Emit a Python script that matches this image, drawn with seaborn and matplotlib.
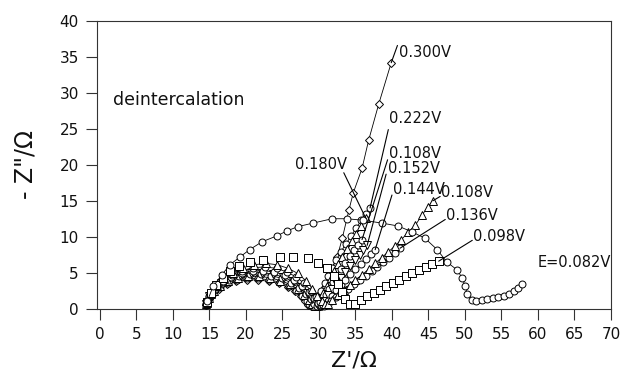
import numpy as np
import pandas as pd
import matplotlib
matplotlib.use("Agg")
import matplotlib.pyplot as plt
import seaborn as sns

# ---- impedance spectra (Z' / Ohm, -Z'' / Ohm) ----
re_082 = [14.7, 15.5, 16.7, 17.8, 19.2, 20.5, 22.2, 24.2, 25.6, 27.1, 29.2, 31.8, 33.8, 36.0,
          38.6, 40.8, 42.7, 44.5, 46.2, 47.5, 48.9, 49.6, 50.0, 50.3, 51.0, 51.5, 52.3, 53.0,
          53.8, 54.5, 55.3, 56.0, 56.7, 57.3, 57.8]
im_082 = [1.0, 3.1, 4.7, 6.1, 7.2, 8.2, 9.3, 10.1, 10.8, 11.4, 11.9, 12.5, 12.5, 12.3,
          11.9, 11.5, 10.7, 9.8, 8.2, 6.5, 5.4, 4.3, 3.2, 2.1, 1.2, 1.0, 1.2, 1.3,
          1.5, 1.6, 1.8, 2.1, 2.5, 2.9, 3.4]

re_098 = [14.7, 15.2, 15.9, 16.8, 17.8, 19.0, 20.5, 22.3, 24.7, 26.4, 28.5, 29.9, 31.1, 32.0,
          32.6, 33.1, 33.6, 34.2, 35.0, 35.8, 36.6, 37.5, 38.3, 39.2, 40.1, 41.0, 41.9, 42.8,
          43.7, 44.6, 45.5, 46.4]
im_098 = [0.9, 2.2, 3.3, 4.3, 5.2, 5.9, 6.5, 6.8, 7.2, 7.2, 7.1, 6.4, 5.7, 4.6,
          3.4, 2.3, 1.3, 0.6, 0.7, 1.2, 1.7, 2.2, 2.6, 3.1, 3.6, 4.0, 4.5, 5.0,
          5.4, 5.8, 6.2, 6.6]

re_108b = [14.6, 15.2, 16.0, 17.0, 18.2, 19.6, 21.1, 22.7, 24.3, 25.8, 27.1, 28.2, 29.1, 29.8,
           30.4, 30.8, 31.2, 31.8, 32.6, 33.4, 34.2, 35.0, 35.9, 36.8, 37.7, 38.6, 39.5, 40.4,
           41.3, 42.2, 43.2, 44.1, 45.0, 45.6]
im_108b = [0.8, 2.1, 3.2, 4.2, 5.0, 5.7, 6.1, 6.3, 6.1, 5.6, 4.9, 3.9, 2.8, 1.8,
           1.0, 0.7, 0.6, 1.2, 1.9, 2.6, 3.3, 4.0, 4.7, 5.5, 6.3, 7.1, 7.9, 8.7,
           9.6, 10.6, 11.6, 13.0, 14.2, 15.0]

re_136 = [14.6, 15.1, 15.9, 16.9, 18.1, 19.5, 21.0, 22.6, 24.2, 25.6, 26.9, 28.0, 28.9, 29.6,
          30.2, 30.6, 31.0, 31.6, 32.4, 33.2, 34.0, 34.8, 35.6, 36.4, 37.2, 38.0, 38.8, 39.6,
          40.4, 41.1]
im_136 = [0.7, 1.9, 3.0, 3.9, 4.7, 5.3, 5.7, 5.8, 5.6, 5.1, 4.4, 3.5, 2.5, 1.6,
          0.9, 0.5, 0.45, 1.0, 1.6, 2.2, 2.8, 3.4, 4.0, 4.6, 5.2, 5.8, 6.5, 7.1,
          7.8, 8.4]

re_144 = [14.5, 15.0, 15.8, 16.8, 18.0, 19.4, 20.9, 22.4, 23.9, 25.3, 26.6, 27.7, 28.6, 29.3,
          29.9, 30.3, 30.7, 31.2, 31.8, 32.4, 33.0, 33.6, 34.3, 35.0, 35.7, 36.4, 37.1, 37.7]
im_144 = [0.7, 1.8, 2.8, 3.7, 4.4, 4.9, 5.2, 5.3, 5.1, 4.7, 4.0, 3.2, 2.3, 1.5,
          0.8, 0.5, 0.4, 1.0, 1.8, 2.6, 3.3, 4.0, 4.8, 5.5, 6.2, 6.9, 7.6, 8.2]

re_152 = [14.5, 15.0, 15.7, 16.6, 17.8, 19.2, 20.7, 22.2, 23.7, 25.1, 26.4, 27.5, 28.4, 29.1,
          29.6, 30.0, 30.4, 30.8, 31.3, 31.8, 32.4, 33.0, 33.6, 34.2, 34.9, 35.6, 36.1, 36.6]
im_152 = [0.6, 1.7, 2.7, 3.5, 4.2, 4.7, 5.0, 5.0, 4.8, 4.4, 3.8, 3.0, 2.2, 1.4,
          0.8, 0.4, 0.35, 1.1, 1.9, 2.7, 3.5, 4.3, 5.1, 5.9, 6.7, 7.5, 8.1, 8.8]

re_108a = [14.5, 15.0, 15.7, 16.6, 17.7, 19.0, 20.5, 22.0, 23.5, 24.9, 26.2, 27.3, 28.2, 28.9,
           29.3, 29.7, 30.1, 30.5, 30.9, 31.4, 31.9, 32.4, 33.0, 33.6, 34.2, 34.8, 35.4, 35.9]
im_108a = [0.6, 1.6, 2.6, 3.4, 4.0, 4.5, 4.8, 4.8, 4.6, 4.2, 3.6, 2.9, 2.1, 1.3,
           0.7, 0.4, 0.35, 1.1, 1.9, 2.8, 3.7, 4.6, 5.5, 6.4, 7.3, 8.2, 8.9, 9.6]

re_180 = [14.5, 15.0, 15.6, 16.5, 17.6, 18.9, 20.3, 21.8, 23.3, 24.7, 26.0, 27.1, 28.0, 28.6,
          29.0, 29.4, 29.8, 30.2, 30.6, 31.1, 31.6, 32.1, 32.6, 33.2, 33.8, 34.5, 35.1, 35.8, 36.4]
im_180 = [0.6, 1.5, 2.4, 3.2, 3.8, 4.2, 4.5, 4.5, 4.3, 3.9, 3.4, 2.7, 1.9, 1.2,
          0.6, 0.35, 0.3, 1.2, 2.2, 3.2, 4.2, 5.2, 6.2, 7.2, 8.3, 9.4, 10.4, 11.5, 12.6]

re_222 = [14.5, 14.9, 15.5, 16.4, 17.5, 18.8, 20.2, 21.7, 23.2, 24.6, 25.9, 26.9, 27.7, 28.3,
          28.7, 29.1, 29.5, 29.9, 30.3, 30.8, 31.3, 31.8, 32.4, 33.0, 33.7, 34.4, 35.1, 35.8,
          36.4, 37.0]
im_222 = [0.5, 1.4, 2.3, 3.0, 3.6, 4.0, 4.2, 4.2, 4.0, 3.7, 3.2, 2.5, 1.8, 1.1,
          0.6, 0.3, 0.3, 1.3, 2.4, 3.5, 4.6, 5.7, 6.8, 7.9, 9.0, 10.1, 11.2, 12.3,
          13.2, 14.0]

re_300 = [14.5, 14.9, 15.5, 16.3, 17.4, 18.7, 20.1, 21.6, 23.1, 24.5, 25.7, 26.7, 27.5, 28.1,
          28.5, 28.9, 29.3, 30.0, 30.8, 31.5, 32.5, 33.2, 34.1, 34.7, 35.9, 36.8, 38.2, 39.9]
im_300 = [0.5, 1.3, 2.1, 2.8, 3.4, 3.8, 4.0, 4.0, 3.8, 3.5, 3.0, 2.4, 1.7, 1.0,
          0.5, 0.3, 0.3, 1.5, 3.0, 5.0, 7.2, 9.8, 13.7, 16.1, 19.5, 23.4, 28.5, 34.2]

x_ticks = list(range(0, 75, 5))
y_ticks = list(range(0, 45, 5))

series = [
    # name, re, im, marker, connect points
    ("0.300V", re_300, im_300, "D", True),
    ("0.222V", re_222, im_222, "o", True),
    ("0.180V", re_180, im_180, "^", True),
    ("0.108V a", re_108a, im_108a, "o", True),
    ("0.152V", re_152, im_152, "v", True),
    ("0.144V", re_144, im_144, "o", True),
    ("0.136V", re_136, im_136, "o", True),
    ("0.108V b", re_108b, im_108b, "^", True),
    ("0.098V", re_098, im_098, "s", False),
    ("E=0.082V", re_082, im_082, "o", True),
]

frames = []
for name, xs, ys, _, _ in series:
    frames.append(pd.DataFrame({"re": xs, "im": ys, "E": name, "idx": range(len(xs))}))
df = pd.concat(frames, ignore_index=True)

sns.set_style("ticks")
plt.rcParams["font.family"] = ["DejaVu Sans"]
plt.rcParams["text.color"] = "#111111"
plt.rcParams["xtick.color"] = "#111111"
plt.rcParams["ytick.color"] = "#111111"
plt.rcParams["axes.labelcolor"] = "#111111"

fig = plt.figure(figsize=(6.21, 3.85), dpi=100)
ax = fig.add_axes([97 / 621, (385 - 309) / 385, (611 - 97) / 621, (309 - 21) / 385])

msize = {"o": 5.0, "s": 5.0, "D": 4.2, "^": 5.2, "v": 5.2}
for k, (name, xs, ys, mk, joined) in enumerate(series):
    sub = df[df["E"] == name]
    if joined:
        sns.lineplot(data=sub, x="re", y="im", sort=False, estimator=None, ax=ax,
                     color="black", linewidth=0.6, marker=mk, markersize=msize[mk],
                     markerfacecolor="white", markeredgecolor="black",
                     markeredgewidth=0.7, zorder=3 + k, clip_on=False)
    else:
        sns.scatterplot(data=sub, x="re", y="im", ax=ax, marker=mk, s=26,
                        facecolor="white", edgecolor="black", linewidth=0.7,
                        zorder=3 + k, clip_on=False)

# curve labels with leader lines: text, text anchor, leader start (curve end), leader end
labels = [
    ("0.300V", (40.9, 35.6), "left", (re_300[-1], im_300[-1]), (40.75, 36.6)),
    ("0.222V", (39.6, 26.4), "left", (re_222[-1], im_222[-1]), (39.5, 24.9)),
    ("0.108V", (39.6, 21.6), "left", (re_108a[-1], im_108a[-1]), (39.4, 20.7)),
    ("0.152V", (39.4, 19.5), "left", (re_152[-1], im_152[-1]), (39.2, 18.7)),
    ("0.144V", (40.1, 16.6), "left", (re_144[-1], im_144[-1]), (40.0, 15.8)),
    ("0.180V", (33.8, 20.1), "right", (re_180[-1], im_180[-1]), (33.4, 18.9)),
    ("0.108V", (46.7, 16.1), "left", (re_108b[-1], im_108b[-1]), (46.6, 15.6)),
    ("0.136V", (47.4, 12.9), "left", (re_136[-1], im_136[-1]), (47.3, 12.4)),
    ("0.098V", (51.1, 10.0), "left", (re_098[-1], im_098[-1]), (51.0, 9.5)),
]
for txt, pos, ha, p0, p1 in labels:
    ax.plot([p0[0], p1[0]], [p0[1], p1[1]], color="black", lw=0.8, zorder=20)
    ax.text(pos[0], pos[1], txt, ha=ha, va="center", fontsize=10.5, zorder=21)

ax.text(60.0, 6.4, "E=0.082V", ha="left", va="center", fontsize=10.5)
ax.text(1.8, 29.0, "deintercalation", ha="left", va="center", fontsize=12.5)

ax.set_xlim(-0.4, 70)
ax.set_ylim(-0.05, 40)
ax.set_xticks(x_ticks)
ax.set_yticks(y_ticks)
ax.tick_params(axis="both", direction="out", length=8, width=0.8, labelsize=11, pad=5,
               color="#333333")
for sp in ax.spines.values():
    sp.set_visible(True)
    sp.set_linewidth(0.8)
    sp.set_color("#333333")

ax.set_xlabel("Z'/Ω", fontsize=16, labelpad=6)
ax.set_ylabel('- Z"/Ω', fontsize=17, labelpad=16)

fig.savefig("out.png", dpi=100)
